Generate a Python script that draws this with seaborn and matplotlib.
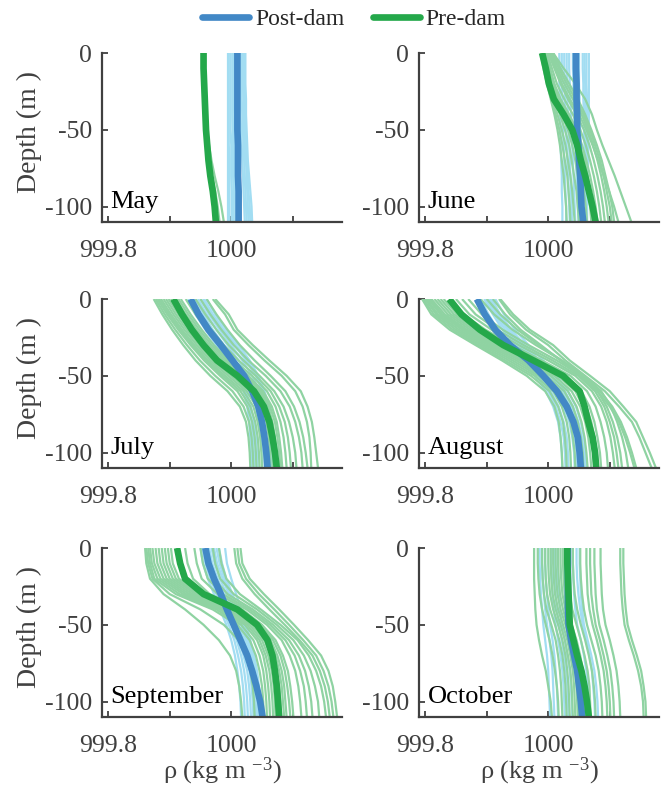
import matplotlib
matplotlib.use("Agg")
import matplotlib.pyplot as plt
from matplotlib.lines import Line2D
import pandas as pd
import seaborn as sns

sns.set_style("ticks")
plt.rcParams["font.family"] = ["Liberation Serif", "DejaVu Serif"]
plt.rcParams["mathtext.fontset"] = "custom"
plt.rcParams["mathtext.rm"] = "Liberation Serif"
plt.rcParams["mathtext.it"] = "Liberation Serif:italic"

# Sampling depths of every cast (m)
depths = [0, -10, -20, -30, -40, -50, -60, -70, -80, -90, -100, -110]
months = ["May", "June", "July", "August", "September", "October"]

# Density anomalies, rho - 1000 (kg m^-3), one list per cast
may_pre_mean = [-0.045, -0.045, -0.044, -0.043, -0.042, -0.041, -0.039, -0.037, -0.034, -0.030, -0.027, -0.025]
may_post_mean = [0.010, 0.010, 0.010, 0.010, 0.010, 0.010, 0.011, 0.011, 0.011, 0.012, 0.012, 0.012]
may_pre_casts = [
    [-0.046, -0.046, -0.045, -0.044, -0.043, -0.042, -0.040, -0.038, -0.035, -0.032, -0.029, -0.027],
    [-0.045, -0.045, -0.044, -0.043, -0.042, -0.040, -0.038, -0.035, -0.031, -0.026, -0.022, -0.019],
    [-0.044, -0.044, -0.043, -0.042, -0.041, -0.039, -0.036, -0.032, -0.027, -0.021, -0.016, -0.012],
]
may_post_casts = [
    [-0.006, -0.006, -0.006, -0.006, -0.006, -0.006, -0.006, -0.006, -0.006, -0.006, -0.006, -0.006],
    [-0.004, -0.004, -0.004, -0.004, -0.004, -0.004, -0.004, -0.003, -0.003, -0.003, -0.003, -0.003],
    [-0.001, -0.001, -0.001, -0.001, -0.001, -0.001, 0.000, 0.000, 0.000, 0.001, 0.001, 0.001],
    [0.002, 0.002, 0.002, 0.002, 0.002, 0.003, 0.003, 0.003, 0.003, 0.004, 0.004, 0.004],
    [0.004, 0.004, 0.004, 0.004, 0.005, 0.005, 0.005, 0.006, 0.006, 0.006, 0.007, 0.007],
    [0.014, 0.014, 0.014, 0.015, 0.015, 0.016, 0.017, 0.018, 0.019, 0.020, 0.021, 0.022],
    [0.017, 0.017, 0.017, 0.017, 0.018, 0.019, 0.020, 0.021, 0.022, 0.023, 0.024, 0.025],
    [0.019, 0.019, 0.019, 0.020, 0.020, 0.021, 0.022, 0.024, 0.025, 0.026, 0.027, 0.028],
    [0.021, 0.021, 0.021, 0.022, 0.022, 0.023, 0.024, 0.025, 0.027, 0.028, 0.030, 0.031],
    [0.023, 0.023, 0.023, 0.024, 0.024, 0.025, 0.026, 0.027, 0.029, 0.031, 0.033, 0.034],
]

june_pre_mean = [-0.010, -0.004, 0.001, 0.009, 0.025, 0.039, 0.047, 0.053, 0.060, 0.066, 0.072, 0.077]
june_post_mean = [0.045, 0.045, 0.046, 0.046, 0.047, 0.047, 0.049, 0.050, 0.052, 0.053, 0.054, 0.057]
june_pre_casts = [
    [-0.012, -0.008, -0.002, 0.004, 0.010, 0.015, 0.019, 0.022, 0.025, 0.027, 0.029, 0.030],
    [-0.011, -0.006, -0.001, 0.005, 0.012, 0.018, 0.023, 0.027, 0.031, 0.033, 0.035, 0.036],
    [-0.010, -0.005, 0.000, 0.007, 0.015, 0.022, 0.028, 0.032, 0.036, 0.039, 0.041, 0.043],
    [-0.009, -0.003, 0.002, 0.010, 0.019, 0.027, 0.034, 0.038, 0.042, 0.046, 0.048, 0.050],
    [-0.008, -0.002, 0.004, 0.012, 0.022, 0.032, 0.039, 0.044, 0.048, 0.052, 0.055, 0.057],
    [-0.007, -0.001, 0.005, 0.014, 0.026, 0.037, 0.045, 0.050, 0.055, 0.058, 0.061, 0.063],
    [-0.006, 0.000, 0.006, 0.016, 0.030, 0.042, 0.050, 0.056, 0.061, 0.065, 0.068, 0.070],
    [-0.005, 0.002, 0.008, 0.018, 0.032, 0.044, 0.052, 0.059, 0.064, 0.069, 0.072, 0.075],
    [-0.004, 0.003, 0.010, 0.020, 0.034, 0.046, 0.055, 0.062, 0.068, 0.073, 0.077, 0.080],
    [-0.002, 0.006, 0.014, 0.026, 0.040, 0.052, 0.061, 0.068, 0.074, 0.079, 0.083, 0.086],
    [0.000, 0.010, 0.020, 0.032, 0.046, 0.058, 0.067, 0.074, 0.080, 0.085, 0.089, 0.092],
    [0.004, 0.014, 0.026, 0.040, 0.054, 0.065, 0.073, 0.080, 0.086, 0.091, 0.095, 0.098],
    [0.006, 0.017, 0.030, 0.044, 0.057, 0.068, 0.076, 0.084, 0.090, 0.095, 0.100, 0.103],
    [0.008, 0.020, 0.034, 0.048, 0.060, 0.070, 0.079, 0.087, 0.093, 0.099, 0.104, 0.107],
    [0.002, 0.012, 0.022, 0.035, 0.050, 0.062, 0.072, 0.081, 0.090, 0.099, 0.107, 0.114],
    [0.008, 0.025, 0.044, 0.060, 0.071, 0.079, 0.088, 0.098, 0.108, 0.117, 0.126, 0.135],
]
june_post_casts = [
    [0.018, 0.018, 0.018, 0.019, 0.019, 0.020, 0.020, 0.021, 0.022, 0.022, 0.023, 0.023],
    [0.022, 0.022, 0.022, 0.023, 0.023, 0.024, 0.025, 0.026, 0.027, 0.028, 0.029, 0.029],
    [0.026, 0.026, 0.027, 0.027, 0.028, 0.029, 0.030, 0.031, 0.032, 0.033, 0.034, 0.035],
    [0.030, 0.030, 0.031, 0.031, 0.032, 0.033, 0.034, 0.035, 0.036, 0.037, 0.038, 0.039],
    [0.034, 0.034, 0.035, 0.036, 0.037, 0.038, 0.039, 0.040, 0.041, 0.042, 0.043, 0.044],
    [0.040, 0.040, 0.041, 0.041, 0.042, 0.043, 0.044, 0.045, 0.046, 0.047, 0.048, 0.049],
    [0.045, 0.045, 0.045, 0.046, 0.046, 0.047, 0.048, 0.049, 0.050, 0.051, 0.052, 0.053],
    [0.050, 0.050, 0.050, 0.051, 0.051, 0.052, 0.053, 0.054, 0.055, 0.056, 0.057, 0.058],
    [0.056, 0.056, 0.057, 0.057, 0.058, 0.058, 0.059, 0.059, 0.060, 0.060, 0.061, 0.061],
    [0.059, 0.059, 0.060, 0.060, 0.060, 0.061, 0.061, 0.062, 0.062, 0.062, 0.062, 0.062],
    [0.062, 0.062, 0.062, 0.063, 0.063, 0.063, 0.063, 0.063, 0.063, 0.063, 0.063, 0.063],
    [0.066, 0.066, 0.066, 0.066, 0.066, 0.066, 0.065, 0.065, 0.064, 0.064, 0.063, 0.063],
]

july_pre_mean = [-0.094, -0.080, -0.064, -0.045, -0.023, 0.010, 0.037, 0.053, 0.062, 0.067, 0.071, 0.074]
july_post_mean = [-0.066, -0.053, -0.037, -0.017, 0.002, 0.021, 0.034, 0.044, 0.050, 0.054, 0.057, 0.059]
july_pre_casts = [
    [-0.126, -0.112, -0.096, -0.078, -0.058, -0.034, -0.006, 0.014, 0.024, 0.028, 0.030, 0.031],
    [-0.123, -0.108, -0.091, -0.072, -0.051, -0.026, 0.002, 0.020, 0.029, 0.033, 0.035, 0.036],
    [-0.120, -0.104, -0.086, -0.066, -0.044, -0.018, 0.010, 0.026, 0.034, 0.038, 0.040, 0.041],
    [-0.117, -0.101, -0.083, -0.063, -0.041, -0.014, 0.015, 0.031, 0.039, 0.043, 0.045, 0.046],
    [-0.114, -0.098, -0.080, -0.060, -0.038, -0.010, 0.020, 0.036, 0.043, 0.047, 0.049, 0.050],
    [-0.110, -0.094, -0.076, -0.056, -0.034, -0.005, 0.025, 0.041, 0.048, 0.052, 0.054, 0.055],
    [-0.106, -0.090, -0.072, -0.052, -0.030, 0.000, 0.030, 0.045, 0.052, 0.056, 0.058, 0.059],
    [-0.102, -0.086, -0.068, -0.048, -0.025, 0.006, 0.035, 0.050, 0.057, 0.061, 0.063, 0.064],
    [-0.098, -0.082, -0.064, -0.044, -0.020, 0.012, 0.040, 0.054, 0.061, 0.065, 0.067, 0.068],
    [-0.094, -0.078, -0.060, -0.040, -0.016, 0.016, 0.043, 0.057, 0.064, 0.068, 0.071, 0.072],
    [-0.090, -0.074, -0.056, -0.036, -0.012, 0.020, 0.046, 0.060, 0.067, 0.071, 0.074, 0.076],
    [-0.086, -0.070, -0.052, -0.032, -0.008, 0.024, 0.049, 0.063, 0.071, 0.075, 0.078, 0.080],
    [-0.082, -0.066, -0.048, -0.028, -0.004, 0.028, 0.052, 0.066, 0.074, 0.078, 0.081, 0.083],
    [-0.074, -0.058, -0.040, -0.020, 0.004, 0.034, 0.058, 0.072, 0.080, 0.085, 0.088, 0.090],
    [-0.066, -0.050, -0.032, -0.012, 0.012, 0.040, 0.064, 0.078, 0.087, 0.092, 0.095, 0.097],
    [-0.058, -0.042, -0.024, -0.004, 0.020, 0.046, 0.070, 0.085, 0.094, 0.100, 0.104, 0.106],
    [-0.050, -0.034, -0.016, 0.004, 0.028, 0.056, 0.080, 0.095, 0.104, 0.110, 0.114, 0.116],
    [-0.040, -0.024, -0.006, 0.014, 0.038, 0.064, 0.088, 0.102, 0.111, 0.117, 0.121, 0.124],
    [-0.030, -0.010, 0.004, 0.028, 0.054, 0.082, 0.104, 0.116, 0.123, 0.127, 0.129, 0.130],
    [-0.026, -0.004, 0.010, 0.035, 0.062, 0.090, 0.113, 0.124, 0.131, 0.135, 0.138, 0.141],
]
july_post_casts = [
    [-0.070, -0.058, -0.042, -0.024, -0.006, 0.012, 0.024, 0.032, 0.037, 0.040, 0.042, 0.043],
    [-0.066, -0.054, -0.039, -0.022, -0.005, 0.011, 0.022, 0.029, 0.033, 0.035, 0.037, 0.038],
    [-0.062, -0.050, -0.036, -0.020, -0.004, 0.010, 0.020, 0.026, 0.029, 0.031, 0.032, 0.033],
    [-0.058, -0.045, -0.030, -0.012, 0.005, 0.020, 0.032, 0.040, 0.045, 0.048, 0.050, 0.051],
    [-0.054, -0.040, -0.024, -0.006, 0.012, 0.028, 0.040, 0.048, 0.053, 0.056, 0.058, 0.060],
    [-0.050, -0.036, -0.019, 0.000, 0.018, 0.034, 0.046, 0.054, 0.059, 0.062, 0.064, 0.065],
    [-0.046, -0.032, -0.014, 0.006, 0.024, 0.040, 0.051, 0.058, 0.063, 0.066, 0.068, 0.069],
    [-0.044, -0.030, -0.012, 0.008, 0.026, 0.041, 0.052, 0.059, 0.064, 0.067, 0.069, 0.070],
    [-0.040, -0.026, -0.008, 0.012, 0.030, 0.044, 0.054, 0.061, 0.065, 0.068, 0.070, 0.071],
]

august_pre_mean = [-0.161, -0.141, -0.111, -0.073, -0.024, 0.024, 0.051, 0.059, 0.065, 0.072, 0.076, 0.078]
august_post_mean = [-0.116, -0.103, -0.086, -0.062, -0.032, -0.008, 0.014, 0.030, 0.041, 0.048, 0.051, 0.053]
august_pre_casts = [
    [-0.205, -0.190, -0.160, -0.118, -0.075, -0.035, -0.005, 0.010, 0.017, 0.020, 0.022, 0.023],
    [-0.203, -0.186, -0.155, -0.113, -0.070, -0.028, 0.002, 0.016, 0.024, 0.027, 0.029, 0.030],
    [-0.200, -0.182, -0.150, -0.108, -0.064, -0.022, 0.008, 0.022, 0.030, 0.034, 0.036, 0.037],
    [-0.198, -0.179, -0.145, -0.103, -0.058, -0.016, 0.014, 0.028, 0.036, 0.040, 0.043, 0.044],
    [-0.195, -0.175, -0.140, -0.098, -0.052, -0.010, 0.020, 0.034, 0.042, 0.046, 0.049, 0.050],
    [-0.192, -0.172, -0.136, -0.093, -0.046, -0.003, 0.026, 0.040, 0.048, 0.053, 0.056, 0.057],
    [-0.190, -0.168, -0.132, -0.088, -0.040, 0.004, 0.032, 0.046, 0.054, 0.059, 0.062, 0.064],
    [-0.185, -0.163, -0.127, -0.083, -0.035, 0.010, 0.038, 0.052, 0.060, 0.065, 0.068, 0.070],
    [-0.180, -0.158, -0.122, -0.078, -0.030, 0.016, 0.044, 0.057, 0.065, 0.070, 0.073, 0.075],
    [-0.175, -0.153, -0.117, -0.073, -0.025, 0.021, 0.049, 0.062, 0.070, 0.075, 0.079, 0.081],
    [-0.170, -0.148, -0.112, -0.068, -0.020, 0.026, 0.054, 0.067, 0.075, 0.080, 0.084, 0.086],
    [-0.160, -0.138, -0.102, -0.058, -0.010, 0.036, 0.063, 0.077, 0.085, 0.091, 0.095, 0.097],
    [-0.150, -0.128, -0.092, -0.048, 0.000, 0.044, 0.071, 0.086, 0.095, 0.101, 0.105, 0.108],
    [-0.140, -0.118, -0.083, -0.040, 0.007, 0.049, 0.076, 0.091, 0.100, 0.107, 0.111, 0.114],
    [-0.130, -0.108, -0.074, -0.032, 0.014, 0.054, 0.080, 0.095, 0.105, 0.112, 0.117, 0.120],
    [-0.110, -0.088, -0.058, -0.020, 0.022, 0.058, 0.086, 0.102, 0.112, 0.120, 0.126, 0.130],
    [-0.100, -0.078, -0.050, -0.015, 0.022, 0.056, 0.084, 0.104, 0.118, 0.128, 0.136, 0.143],
    [-0.090, -0.070, -0.045, -0.012, 0.020, 0.052, 0.080, 0.100, 0.115, 0.125, 0.133, 0.140],
    [-0.080, -0.062, -0.036, 0.000, 0.028, 0.060, 0.092, 0.115, 0.136, 0.148, 0.158, 0.168],
    [-0.078, -0.057, -0.030, 0.008, 0.035, 0.068, 0.100, 0.122, 0.143, 0.154, 0.165, 0.175],
]
august_post_casts = [
    [-0.116, -0.104, -0.090, -0.070, -0.045, -0.022, -0.004, 0.008, 0.016, 0.020, 0.022, 0.023],
    [-0.113, -0.100, -0.086, -0.065, -0.040, -0.018, 0.000, 0.012, 0.020, 0.025, 0.027, 0.028],
    [-0.110, -0.097, -0.082, -0.060, -0.036, -0.014, 0.004, 0.017, 0.025, 0.030, 0.032, 0.033],
    [-0.104, -0.090, -0.074, -0.052, -0.028, -0.006, 0.012, 0.025, 0.034, 0.039, 0.042, 0.043],
    [-0.101, -0.087, -0.070, -0.048, -0.024, -0.002, 0.016, 0.029, 0.038, 0.043, 0.046, 0.047],
    [-0.098, -0.084, -0.066, -0.044, -0.020, 0.002, 0.020, 0.033, 0.042, 0.048, 0.051, 0.052],
    [-0.095, -0.081, -0.063, -0.041, -0.017, 0.005, 0.024, 0.037, 0.046, 0.052, 0.055, 0.056],
    [-0.092, -0.078, -0.060, -0.038, -0.014, 0.008, 0.027, 0.040, 0.049, 0.055, 0.058, 0.060],
    [-0.086, -0.072, -0.054, -0.032, -0.008, 0.014, 0.032, 0.045, 0.053, 0.058, 0.061, 0.062],
]

september_pre_mean = [-0.088, -0.083, -0.075, -0.045, 0.010, 0.042, 0.059, 0.067, 0.071, 0.074, 0.076, 0.078]
september_post_mean = [-0.042, -0.037, -0.028, -0.017, -0.007, 0.004, 0.015, 0.026, 0.034, 0.041, 0.047, 0.051]
september_pre_casts = [
    [-0.140, -0.138, -0.132, -0.110, -0.075, -0.045, -0.020, -0.002, 0.008, 0.013, 0.016, 0.018],
    [-0.138, -0.135, -0.128, -0.100, -0.050, -0.012, 0.012, 0.024, 0.031, 0.035, 0.037, 0.038],
    [-0.135, -0.132, -0.125, -0.090, -0.030, 0.010, 0.030, 0.040, 0.046, 0.050, 0.052, 0.053],
    [-0.132, -0.129, -0.120, -0.084, -0.024, 0.016, 0.036, 0.046, 0.052, 0.055, 0.057, 0.058],
    [-0.128, -0.125, -0.115, -0.078, -0.018, 0.022, 0.042, 0.052, 0.057, 0.060, 0.062, 0.063],
    [-0.123, -0.120, -0.110, -0.073, -0.013, 0.026, 0.046, 0.056, 0.062, 0.065, 0.067, 0.068],
    [-0.118, -0.115, -0.105, -0.068, -0.008, 0.030, 0.050, 0.060, 0.066, 0.069, 0.071, 0.072],
    [-0.113, -0.110, -0.100, -0.063, -0.003, 0.034, 0.054, 0.064, 0.070, 0.074, 0.076, 0.077],
    [-0.108, -0.105, -0.095, -0.058, 0.002, 0.038, 0.058, 0.068, 0.074, 0.078, 0.080, 0.081],
    [-0.103, -0.100, -0.090, -0.054, 0.006, 0.041, 0.061, 0.072, 0.078, 0.082, 0.084, 0.086],
    [-0.098, -0.095, -0.085, -0.050, 0.010, 0.044, 0.064, 0.075, 0.082, 0.086, 0.088, 0.090],
    [-0.088, -0.084, -0.075, -0.043, 0.014, 0.047, 0.068, 0.080, 0.087, 0.091, 0.094, 0.096],
    [-0.075, -0.071, -0.062, -0.035, 0.018, 0.050, 0.072, 0.084, 0.092, 0.096, 0.099, 0.101],
    [-0.060, -0.056, -0.048, -0.022, 0.025, 0.058, 0.082, 0.095, 0.104, 0.109, 0.112, 0.114],
    [-0.050, -0.046, -0.038, -0.014, 0.030, 0.063, 0.088, 0.103, 0.112, 0.118, 0.121, 0.123],
    [-0.040, -0.036, -0.028, -0.006, 0.035, 0.068, 0.094, 0.110, 0.120, 0.126, 0.130, 0.132],
    [-0.030, -0.026, -0.018, 0.004, 0.042, 0.074, 0.101, 0.118, 0.129, 0.136, 0.141, 0.143],
    [-0.020, -0.016, -0.008, 0.014, 0.048, 0.080, 0.108, 0.126, 0.138, 0.146, 0.151, 0.154],
    [0.005, 0.008, 0.018, 0.038, 0.062, 0.087, 0.111, 0.132, 0.144, 0.152, 0.157, 0.160],
    [0.010, 0.013, 0.024, 0.045, 0.070, 0.094, 0.117, 0.138, 0.150, 0.158, 0.163, 0.166],
    [0.015, 0.018, 0.030, 0.053, 0.078, 0.102, 0.125, 0.146, 0.158, 0.165, 0.169, 0.172],
]
september_post_casts = [
    [-0.050, -0.046, -0.038, -0.028, -0.018, -0.008, 0.000, 0.006, 0.010, 0.013, 0.015, 0.016],
    [-0.047, -0.042, -0.034, -0.024, -0.014, -0.004, 0.005, 0.011, 0.016, 0.019, 0.021, 0.022],
    [-0.044, -0.039, -0.030, -0.020, -0.010, 0.000, 0.009, 0.016, 0.021, 0.024, 0.026, 0.027],
    [-0.040, -0.035, -0.026, -0.016, -0.006, 0.004, 0.013, 0.020, 0.026, 0.029, 0.031, 0.032],
    [-0.036, -0.031, -0.022, -0.012, -0.002, 0.008, 0.017, 0.024, 0.030, 0.033, 0.035, 0.036],
    [-0.032, -0.027, -0.018, -0.008, 0.002, 0.012, 0.021, 0.028, 0.033, 0.036, 0.038, 0.039],
    [-0.028, -0.023, -0.014, -0.004, 0.006, 0.016, 0.024, 0.031, 0.036, 0.039, 0.041, 0.042],
    [-0.024, -0.019, -0.011, -0.001, 0.009, 0.019, 0.027, 0.033, 0.038, 0.041, 0.043, 0.044],
    [-0.020, -0.015, -0.008, 0.002, 0.012, 0.021, 0.029, 0.035, 0.040, 0.043, 0.045, 0.046],
    [-0.010, -0.007, 0.000, 0.008, 0.016, 0.024, 0.031, 0.037, 0.042, 0.045, 0.047, 0.048],
]

october_pre_mean = [0.031, 0.031, 0.032, 0.033, 0.034, 0.035, 0.041, 0.047, 0.054, 0.059, 0.063, 0.066]
october_post_mean = [0.032, 0.032, 0.032, 0.032, 0.032, 0.033, 0.037, 0.042, 0.047, 0.050, 0.053, 0.055]
october_pre_casts = [
    [-0.023, -0.023, -0.023, -0.022, -0.021, -0.019, -0.015, -0.010, -0.004, 0.000, 0.004, 0.006],
    [-0.017, -0.017, -0.016, -0.014, -0.010, -0.004, 0.002, 0.007, 0.011, 0.014, 0.016, 0.017],
    [-0.010, -0.010, -0.009, -0.007, -0.003, 0.005, 0.012, 0.016, 0.019, 0.021, 0.022, 0.023],
    [-0.005, -0.005, -0.004, -0.002, 0.003, 0.011, 0.018, 0.023, 0.026, 0.028, 0.029, 0.030],
    [0.000, 0.000, 0.001, 0.003, 0.008, 0.016, 0.023, 0.028, 0.031, 0.033, 0.034, 0.035],
    [0.004, 0.004, 0.005, 0.007, 0.012, 0.020, 0.027, 0.032, 0.036, 0.038, 0.039, 0.040],
    [0.008, 0.008, 0.009, 0.011, 0.016, 0.024, 0.031, 0.036, 0.040, 0.042, 0.043, 0.044],
    [0.012, 0.012, 0.013, 0.015, 0.020, 0.028, 0.035, 0.040, 0.044, 0.046, 0.047, 0.048],
    [0.016, 0.016, 0.017, 0.019, 0.024, 0.031, 0.038, 0.043, 0.047, 0.049, 0.050, 0.051],
    [0.020, 0.020, 0.021, 0.023, 0.028, 0.035, 0.042, 0.048, 0.052, 0.054, 0.055, 0.056],
    [0.024, 0.024, 0.025, 0.027, 0.031, 0.038, 0.046, 0.052, 0.056, 0.058, 0.059, 0.060],
    [0.032, 0.032, 0.033, 0.035, 0.039, 0.046, 0.053, 0.059, 0.064, 0.067, 0.068, 0.069],
    [0.040, 0.040, 0.041, 0.043, 0.047, 0.053, 0.060, 0.066, 0.071, 0.074, 0.076, 0.077],
    [0.052, 0.052, 0.053, 0.055, 0.058, 0.063, 0.070, 0.077, 0.082, 0.085, 0.087, 0.088],
    [0.062, 0.062, 0.063, 0.064, 0.067, 0.072, 0.079, 0.085, 0.090, 0.093, 0.095, 0.096],
    [0.068, 0.068, 0.069, 0.070, 0.073, 0.077, 0.084, 0.090, 0.095, 0.098, 0.100, 0.101],
    [0.075, 0.075, 0.076, 0.077, 0.079, 0.083, 0.090, 0.096, 0.101, 0.104, 0.106, 0.107],
    [0.085, 0.085, 0.086, 0.087, 0.089, 0.093, 0.100, 0.106, 0.111, 0.114, 0.116, 0.117],
    [0.117, 0.117, 0.118, 0.119, 0.121, 0.124, 0.131, 0.139, 0.146, 0.151, 0.154, 0.155],
    [0.122, 0.122, 0.123, 0.124, 0.126, 0.129, 0.136, 0.144, 0.151, 0.155, 0.158, 0.159],
]
october_post_casts = [
    [-0.014, -0.014, -0.013, -0.012, -0.010, -0.008, -0.005, -0.002, 0.000, 0.001, 0.002, 0.003],
    [-0.010, -0.010, -0.009, -0.007, -0.005, -0.002, 0.002, 0.005, 0.007, 0.008, 0.009, 0.010],
    [-0.005, -0.005, -0.004, -0.002, 0.000, 0.003, 0.007, 0.010, 0.012, 0.014, 0.015, 0.016],
    [0.005, 0.005, 0.006, 0.007, 0.009, 0.012, 0.016, 0.020, 0.023, 0.025, 0.026, 0.027],
    [0.010, 0.010, 0.011, 0.012, 0.014, 0.017, 0.022, 0.026, 0.029, 0.031, 0.032, 0.033],
    [0.015, 0.015, 0.016, 0.017, 0.019, 0.022, 0.027, 0.031, 0.035, 0.037, 0.038, 0.039],
    [0.025, 0.025, 0.026, 0.027, 0.029, 0.032, 0.038, 0.043, 0.047, 0.050, 0.052, 0.053],
    [0.040, 0.040, 0.041, 0.042, 0.044, 0.047, 0.053, 0.058, 0.062, 0.065, 0.067, 0.068],
    [0.046, 0.046, 0.047, 0.049, 0.052, 0.056, 0.062, 0.067, 0.071, 0.073, 0.075, 0.076],
    [0.051, 0.051, 0.052, 0.053, 0.055, 0.058, 0.064, 0.070, 0.075, 0.078, 0.080, 0.081],
]

tables = {
    "May": (may_pre_casts, may_post_casts, may_pre_mean, may_post_mean),
    "June": (june_pre_casts, june_post_casts, june_pre_mean, june_post_mean),
    "July": (july_pre_casts, july_post_casts, july_pre_mean, july_post_mean),
    "August": (august_pre_casts, august_post_casts, august_pre_mean, august_post_mean),
    "September": (september_pre_casts, september_post_casts, september_pre_mean, september_post_mean),
    "October": (october_pre_casts, october_post_casts, october_pre_mean, october_post_mean),
}

# Long-format table: one row per (month, layer, cast, depth)
rows = []
for month, (pre_c, post_c, pre_m, post_m) in tables.items():
    layers = {"post_cast": post_c, "pre_cast": pre_c,
              "post_mean": [post_m], "pre_mean": [pre_m]}
    for layer, casts in layers.items():
        for k, cast in enumerate(casts):
            for d, v in zip(depths, cast):
                rows.append({"month": month, "layer": layer, "cast": k,
                             "depth": d, "rho": 1000.0 + v})
df = pd.DataFrame(rows)

styles = {
    "post_cast": dict(color="#a2ddf2", linewidth=1.6, alpha=1.0),
    "pre_cast": dict(color="#8fd3a2", linewidth=1.6, alpha=1.0),
    "post_mean": dict(color="#4288c6", linewidth=4.8, alpha=1.0),
    "pre_mean": dict(color="#24a84a", linewidth=4.8, alpha=1.0),
}

ink = "#404040"
fig = plt.figure(figsize=(6.65, 7.97), dpi=100)
col_left = [0.1534, 0.6301]
row_bottom = [0.7215, 0.4128, 0.1004]
w, h = 0.3609, 0.2120

for i, month in enumerate(months):
    r, c = divmod(i, 2)
    ax = fig.add_axes([col_left[c], row_bottom[r], w, h])
    sub = df[df["month"] == month]
    for layer in ["post_cast", "pre_cast", "post_mean", "pre_mean"]:
        part = sub[sub["layer"] == layer]
        sns.lineplot(data=part, x="rho", y="depth", units="cast", estimator=None,
                     sort=False, legend=False, ax=ax, solid_capstyle="butt",
                     **styles[layer])
    ax.set_xlim(999.79, 1000.18)
    ax.set_ylim(-110, 0)
    ax.set_xticks([999.8, 999.9, 1000.0, 1000.1])
    ax.set_xticklabels(["999.8", "", "1000", ""])
    ax.set_yticks([0, -50, -100])
    ax.set_yticklabels(["0", "-50", "-100"])
    for side in ["top", "right"]:
        ax.spines[side].set_visible(False)
    for side in ["left", "bottom"]:
        ax.spines[side].set_color(ink)
        ax.spines[side].set_linewidth(1.6)
    ax.tick_params(axis="x", direction="in", length=4, width=1.3, color=ink,
                   labelcolor=ink, labelsize=18.5, pad=13)
    ax.tick_params(axis="y", direction="in", length=4, width=1.3, color=ink,
                   labelcolor=ink, labelsize=18.5, pad=7)
    ax.text(0.035, 0.12, month, transform=ax.transAxes, fontsize=19,
            color="black", ha="left", va="center")
    if c == 0:
        ax.set_ylabel("Depth (m )", fontsize=20, color=ink)
        ax.yaxis.set_label_coords(-0.25, 0.53)
    else:
        ax.set_ylabel("")
    if r == 2:
        ax.set_xlabel("ρ (kg m $^{-3}$)", fontsize=19, color=ink)
        ax.xaxis.set_label_coords(0.5, -0.23)
    else:
        ax.set_xlabel("")

handles = [Line2D([], [], color="#4288c6", linewidth=4.8),
           Line2D([], [], color="#24a84a", linewidth=4.8)]
fig.legend(handles, ["Post-dam", "Pre-dam"], loc="center",
           bbox_to_anchor=(0.532, 0.976), ncol=2, frameon=False, fontsize=17,
           handlelength=2.0, handletextpad=0.25, columnspacing=1.2)

fig.savefig("out.png", dpi=100)
